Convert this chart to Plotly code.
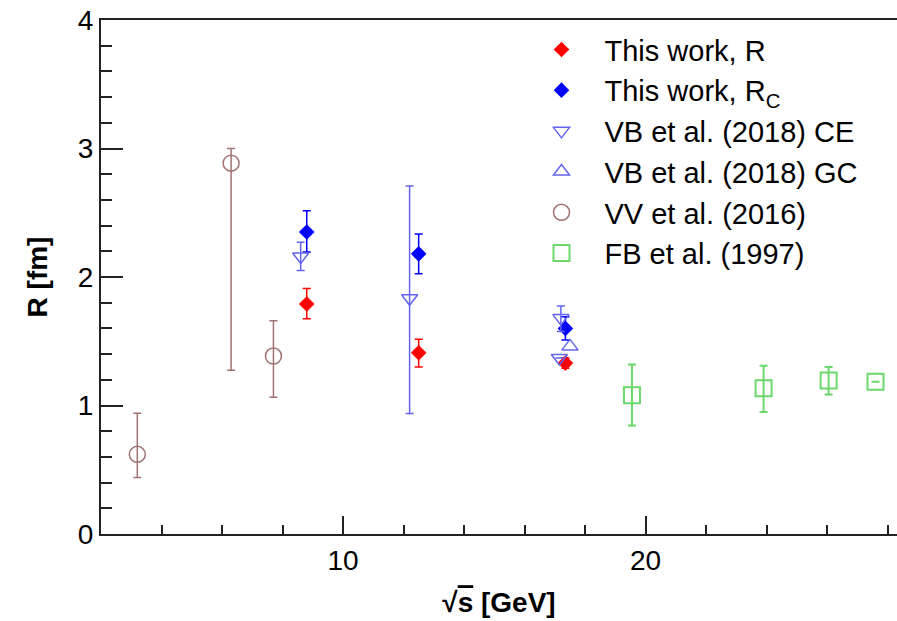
import plotly.graph_objects as go

# ---- data ----
r_x = [8.8, 12.5, 17.35]
r_y = [1.79, 1.41, 1.33]
r_ep = [0.12, 0.105, 0.04]
r_em = [0.115, 0.11, 0.04]

rc_x = [8.8, 12.5, 17.35]
rc_y = [2.35, 2.18, 1.60]
rc_ep = [0.165, 0.155, 0.09]
rc_em = [0.155, 0.155, 0.09]

ce_x = [8.6, 12.2, 17.2, 17.15]
ce_y = [2.16, 1.835, 1.68, 1.37]
ce_ep = [0.11, 0.873, 0.095, 0.0]
ce_em = [0.11, 0.897, 0.104, 0.0]

gc_x = [17.5]
gc_y = [1.46]

vv_x = [3.2, 6.3, 7.7]
vv_y = [0.62, 2.886, 1.385]
vv_ep = [0.32, 0.114, 0.275]
vv_em = [0.18, 1.612, 0.32]

fb_x = [19.55, 23.9, 26.05, 27.6]
fb_y = [1.08, 1.135, 1.195, 1.185]
fb_ep = [0.24, 0.175, 0.105, 0.0]
fb_em = [0.235, 0.185, 0.11, 0.0]

names = ["This work, R", "This work, R<sub>C</sub>", "VB et al. (2018) CE",
         "VB et al. (2018) GC", "VV et al. (2016)", "FB et al. (1997)"]

RED = "#ff0000"
BLUE = "#0000ff"
VBC = "#6464f0"
VVC = "#a07272"
FBC = "#6ad86a"

fig = go.Figure()

def err(ep, em, color, thick=1.5):
    return dict(type="data", symmetric=False, array=ep, arrayminus=em,
                color=color, thickness=thick, width=4)

fig.add_trace(go.Scatter(x=r_x, y=r_y, mode="markers", name=names[0],
    marker=dict(symbol="diamond", size=12, color=RED),
    error_y=err(r_ep, r_em, RED)))
fig.add_trace(go.Scatter(x=rc_x, y=rc_y, mode="markers", name=names[1],
    marker=dict(symbol="diamond", size=12, color=BLUE),
    error_y=err(rc_ep, rc_em, BLUE)))
fig.add_trace(go.Scatter(x=ce_x, y=ce_y, mode="markers", name=names[2],
    marker=dict(symbol="triangle-down-open", size=14, color=VBC, line=dict(width=1.5)),
    error_y=err(ce_ep, ce_em, VBC)))
fig.add_trace(go.Scatter(x=gc_x, y=gc_y, mode="markers", name=names[3],
    marker=dict(symbol="triangle-up-open", size=14, color=VBC, line=dict(width=1.5))))
fig.add_trace(go.Scatter(x=vv_x, y=vv_y, mode="markers", name=names[4],
    marker=dict(symbol="circle-open", size=16, color=VVC, line=dict(width=1.5)),
    error_y=err(vv_ep, vv_em, VVC)))
fig.add_trace(go.Scatter(x=fb_x, y=fb_y, mode="markers", name=names[5],
    marker=dict(symbol="square-open", size=16, color=FBC, line=dict(width=2)),
    error_y=err(fb_ep, fb_em, FBC, 2)))

FONT = "Liberation Sans, Arial, Helvetica, sans-serif"

fig.update_layout(
    width=897, height=621,
    margin=dict(l=101, r=0, t=20, b=87),
    paper_bgcolor="white", plot_bgcolor="white",
    font=dict(family=FONT, size=28, color="black"),
    showlegend=True,
    legend=dict(x=0.5245, y=0.992, xanchor="left", yanchor="top",
                bgcolor="rgba(0,0,0,0)", font=dict(size=29),
                tracegroupgap=0, itemwidth=76),
    xaxis=dict(range=[2, 28.31], showgrid=False, zeroline=False, automargin=False,
               showline=True, linecolor="#222", linewidth=2, mirror=True,
               ticks="inside", ticklen=18, tickwidth=2, tickcolor="#222",
               tick0=0, dtick=10, ticklabeloverflow="allow",
               minor=dict(ticks="inside", ticklen=9, tickwidth=2, tickcolor="#222", dtick=2),
               tickfont=dict(size=28),
               title=dict(text="<b>\u221a<span style='text-decoration:overline'>s</span> [GeV]</b>",
                          font=dict(size=28), standoff=18)),
    yaxis=dict(range=[0, 4], showgrid=False, zeroline=False, automargin=False,
               showline=True, linecolor="#222", linewidth=2, mirror=False,
               ticks="inside", ticklen=22, tickwidth=2, tickcolor="#222",
               tick0=0, dtick=1, ticklabeloverflow="allow",
               minor=dict(ticks="inside", ticklen=11, tickwidth=2, tickcolor="#222", dtick=0.2),
               tickfont=dict(size=28),
               title=dict(text="<b>R [fm]</b>", font=dict(size=28), standoff=22)),
)

fig.write_html("out.html", config={"displayModeBar": False},
               post_script="document.body.style.margin='0';")
